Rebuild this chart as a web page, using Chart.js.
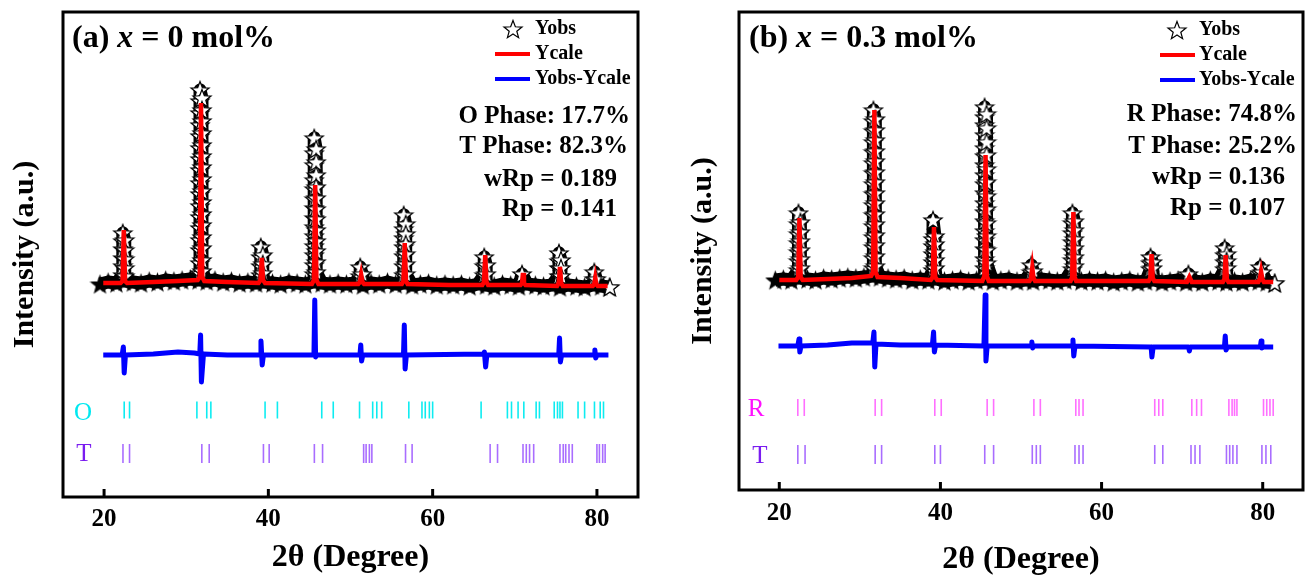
<!DOCTYPE html>
<html>
<head>
<meta charset="utf-8">
<script src="https://cdn.jsdelivr.net/npm/chart.js@4.4.0/dist/chart.umd.min.js"></script>
<style>
  body { margin: 0; background: #fff; }
  #wrap { position: relative; width: 1309px; height: 580px; }
  canvas { position: absolute; top: 0; }
</style>
</head>
<body>
<div id="wrap">
  <canvas id="chartA" width="654" height="580" style="left:0"></canvas>
  <canvas id="chartB" width="655" height="580" style="left:654px"></canvas>
</div>
<script>
// ---- data (2θ in degrees, intensities in a.u. as plotted, stacked offsets included) ----
const xTicks = [20, 40, 60, 80];

// background sampling of Yobs
const twoTheta = [19.5, 20.5, 21.5, 22.5, 23.5, 24.5, 25.5, 26.5, 27.5, 28.5,
  29.5, 30.5, 31.5, 32.5, 33.5, 34.5, 35.5, 36.5, 37.5, 38.5,
  39.5, 40.5, 41.5, 42.5, 43.5, 44.5, 45.5, 46.5, 47.5, 48.5,
  49.5, 50.5, 51.5, 52.5, 53.5, 54.5, 55.5, 56.5, 57.5, 58.5,
  59.5, 60.5, 61.5, 62.5, 63.5, 64.5, 65.5, 66.5, 67.5, 68.5,
  69.5, 70.5, 71.5, 72.5, 73.5, 74.5, 75.5, 76.5, 77.5, 78.5,
  79.5, 80.5, 81.5];

// (a) x = 0 mol%
const obsBaseA = [213, 215, 214, 216, 215, 214, 216, 215, 217, 216,
  217, 218, 217, 216, 217, 215, 216, 214, 215, 214,
  215, 214, 213, 215, 214, 213, 215, 214, 213, 214,
  213, 214, 212, 214, 213, 215, 213, 214, 212, 213,
  214, 212, 213, 212, 213, 211, 213, 212, 211, 213,
  212, 211, 213, 212, 211, 212, 210, 212, 211, 210,
  212, 211, 210];
const obsPeaksA = [
  { at: 22.4, up: [222, 231, 239, 248, 256, 264], down: [257, 247, 238, 229, 221] },
  { at: 31.8, up: [224, 234, 247, 257, 269, 280, 291, 303, 314, 327, 338, 349, 361, 372, 384, 396, 407],
    down: [399, 387, 376, 364, 352, 341, 330, 318, 306, 295, 283, 272, 260, 249, 237, 226] },
  { at: 39.2, up: [222, 231, 240, 250], down: [242, 233, 224] },
  { at: 45.7, up: [223, 232, 242, 251, 261, 270, 279, 289, 298, 308, 317, 332, 344, 359],
    down: [348, 335, 322, 310, 299, 288, 278, 267, 256, 246, 235, 225] },
  { at: 51.3, up: [221, 230], down: [223] },
  { at: 56.6, up: [222, 231, 241, 250, 259, 268, 282], down: [273, 263, 253, 243, 233, 223] },
  { at: 66.4, up: [222, 231, 240], down: [232, 223] },
  { at: 71.0, up: [223], down: [] },
  { at: 75.5, up: [221, 229, 236, 244], down: [237, 229, 221] },
  { at: 79.8, up: [218, 225], down: [218] },
  { at: 81.7, up: [210], down: [] }
];
const calcA = [[19.9, 214], [22.0, 214], [22.25, 216], [22.4, 267], [22.55, 216], [22.8, 214],
  [26, 215], [29, 216], [31.4, 217], [31.65, 220], [31.8, 394], [31.95, 220], [32.2, 216],
  [35, 215], [38.8, 214], [39.05, 217], [39.2, 239], [39.35, 217], [39.6, 214],
  [45.3, 213], [45.55, 217], [45.7, 312], [45.85, 217], [46.1, 213],
  [50.95, 213], [51.15, 215], [51.3, 222], [51.45, 215], [51.65, 213],
  [56.25, 213], [56.45, 216], [56.6, 254], [56.75, 216], [56.95, 213],
  [62, 212], [66.05, 212], [66.25, 215], [66.4, 242], [66.55, 215], [66.75, 212],
  [70.7, 212], [70.88, 214], [71.0, 224], [71.12, 214], [71.3, 212],
  [75.15, 211], [75.35, 214], [75.5, 230], [75.65, 214], [75.85, 211],
  [79.5, 211], [79.68, 213], [79.8, 219], [79.92, 213], [80.1, 211], [81.3, 211]];
const diffA = [[19.9, 142], [22.2, 142], [22.35, 150], [22.45, 124], [22.6, 142],
  [26, 143], [29, 145], [31, 144], [31.65, 143], [31.75, 162], [31.85, 115], [32.1, 143],
  [35, 142], [39.0, 142], [39.1, 156], [39.25, 132], [39.4, 142],
  [45.55, 142], [45.65, 197], [45.75, 140], [45.9, 142],
  [51.15, 142], [51.25, 152], [51.35, 136], [51.5, 142],
  [56.45, 142], [56.55, 172], [56.65, 128], [56.8, 142],
  [66.2, 143], [66.3, 145], [66.45, 130], [66.6, 142],
  [75.35, 142], [75.45, 159], [75.55, 135], [75.7, 142],
  [79.65, 142], [79.75, 147], [79.85, 139], [80.0, 142], [81.4, 142]];
const reflOA = [22.45, 23.1, 31.3, 32.5, 33.0, 39.6, 41.1, 46.5, 47.9, 51.1, 52.7, 53.2, 53.8,
  57.1, 58.7, 59.1, 59.6, 60.0, 65.9, 69.1, 69.6, 70.4, 71.1, 72.6, 73.0,
  74.8, 75.2, 75.5, 75.8, 77.7, 78.5, 79.7, 80.4, 80.8];
const reflTA = [22.3, 23.1, 31.9, 32.8, 39.4, 40.1, 45.6, 46.6, 51.6, 51.9, 52.3, 52.6,
  56.7, 57.5, 67.0, 67.9, 71.0, 71.4, 71.8, 72.3, 75.5, 75.9, 76.2, 76.6, 77.0,
  80.0, 80.3, 80.7, 81.0];
const rowLevelA = [87, 43.5];
const statsA = ['O Phase: 17.7%', 'T Phase: 82.3%', 'wRp = 0.189', 'Rp = 0.141'];

// (b) x = 0.3 mol%
const obsBaseB = [210, 211, 210, 212, 211, 210, 212, 211, 212, 213,
  212, 213, 214, 213, 212, 211, 212, 210, 211, 210,
  211, 209, 210, 211, 209, 210, 211, 209, 210, 211,
  209, 210, 209, 211, 210, 209, 210, 211, 209, 210,
  209, 210, 208, 209, 210, 208, 209, 210, 208, 209,
  210, 208, 209, 208, 210, 209, 208, 209, 208, 210,
  209, 208, 207];
const obsPeaksB = [
  { at: 22.5, up: [220, 229, 238, 247, 256, 266, 277], down: [268, 258, 249, 240, 231, 222] },
  { at: 31.8, up: [222, 232, 243, 253, 264, 275, 285, 296, 306, 317, 327, 338, 348, 359, 369, 380],
    down: [371, 360, 350, 339, 329, 318, 308, 297, 287, 276, 266, 255, 245, 234, 224] },
  { at: 39.2, up: [220, 228, 236, 244, 251, 270], down: [254, 246, 238, 230, 222] },
  { at: 45.6, up: [222, 231, 241, 250, 259, 269, 278, 287, 297, 306, 315, 325, 334, 342, 355, 365, 373, 383],
    down: [376, 362, 348, 335, 321, 308, 294, 281, 267, 254, 240, 227] },
  { at: 51.4, up: [218, 225], down: [219] },
  { at: 56.5, up: [221, 230, 239, 248, 257, 267, 277], down: [269, 260, 251, 242, 233, 224] },
  { at: 66.2, up: [221, 227, 233], down: [228, 222] },
  { at: 70.9, up: [216], down: [] },
  { at: 75.4, up: [221, 228, 235, 242], down: [236, 229, 222] },
  { at: 79.8, up: [217, 223], down: [218] },
  { at: 81.6, up: [207], down: [] }
];
const calcB = [[20.0, 210], [22.1, 210], [22.35, 213], [22.5, 272], [22.65, 213], [22.9, 210],
  [26, 211], [29, 212], [31.4, 214], [31.65, 218], [31.8, 380], [31.95, 218], [32.2, 213],
  [35, 212], [38.8, 210], [39.05, 213], [39.2, 263], [39.35, 213], [39.6, 210],
  [45.2, 209], [45.45, 214], [45.6, 335], [45.75, 214], [46.0, 209],
  [51.05, 209], [51.25, 212], [51.4, 222], [51.55, 212], [51.75, 209],
  [56.15, 209], [56.35, 213], [56.5, 278], [56.65, 213], [56.85, 209],
  [62, 209], [65.85, 209], [66.05, 212], [66.2, 236], [66.35, 212], [66.55, 209],
  [70.6, 208], [70.78, 211], [70.9, 213], [71.02, 211], [71.2, 208],
  [75.05, 208], [75.25, 211], [75.4, 235], [75.55, 211], [75.75, 208],
  [79.45, 208], [79.65, 211], [79.8, 218], [79.95, 211], [80.15, 208], [81.3, 208]];
const diffB = [[19.9, 144], [22.3, 144], [22.45, 151], [22.55, 138], [22.7, 144],
  [26, 145], [29, 147], [31.6, 147], [31.75, 158], [31.85, 123], [32.0, 146],
  [35, 145], [39.0, 145], [39.15, 158], [39.25, 138], [39.4, 145],
  [45.4, 144], [45.55, 195], [45.65, 129], [45.8, 144],
  [51.25, 144], [51.35, 148], [51.45, 142], [51.6, 144],
  [56.35, 144], [56.45, 150], [56.55, 134], [56.7, 144],
  [66.05, 143], [66.15, 143], [66.25, 133], [66.4, 143],
  [70.8, 143], [70.9, 139], [71.0, 143],
  [75.25, 143], [75.35, 154], [75.45, 140], [75.6, 143],
  [79.7, 143], [79.8, 149], [79.9, 142], [80.0, 143], [81.3, 143]];
const reflRB = [22.3, 23.1, 31.9, 32.7, 39.3, 40.1, 45.8, 46.6, 51.6, 52.4, 56.8, 57.2, 57.7,
  66.6, 67.1, 67.6, 71.2, 71.8, 72.4, 75.8, 76.2, 76.5, 76.8, 80.1, 80.5, 80.9, 81.3];
const reflTB = [22.3, 23.2, 31.9, 32.7, 39.3, 40.0, 45.5, 46.6, 51.4, 51.9, 52.4, 56.7, 57.2, 57.7,
  66.6, 67.6, 71.1, 71.6, 72.2, 75.5, 75.9, 76.3, 76.8, 79.9, 80.4, 81.0];
const rowLevelB = [82.5, 35.5];
const statsB = ['R Phase: 74.8%', 'T Phase: 25.2%', 'wRp = 0.136', 'Rp = 0.107'];

// ---- drawing ----
const SERIF = '"Liberation Serif", "Times New Roman", serif';

function starIcon(fill, r) {
  const c = document.createElement('canvas');
  c.width = c.height = Math.ceil(2 * r + 3);
  const g = c.getContext('2d');
  g.beginPath();
  for (let i = 0; i < 10; i++) {
    const a = -Math.PI / 2 + i * Math.PI / 5;
    const rr = i % 2 ? r * 0.42 : r;
    g.lineTo(c.width / 2 + rr * Math.cos(a), c.height / 2 + 1 + rr * Math.sin(a));
  }
  g.closePath();
  g.fillStyle = fill;
  g.fill();
  g.lineWidth = 1.2;
  g.strokeStyle = '#000';
  g.stroke();
  return c;
}
const starWhite = starIcon('#fff', 9.5);
const starBlack = starIcon('#000', 9);

// merge background points and peak columns in 2θ order
function buildObs(base, peaks) {
  const pts = [], styles = [];
  let k = 0;
  const pushPeak = p => {
    p.up.forEach(y => { pts.push({ x: p.at - 0.12, y }); styles.push(starWhite); });
    p.down.forEach(y => { pts.push({ x: p.at + 0.12, y }); styles.push(starWhite); });
  };
  twoTheta.forEach((x, i) => {
    while (k < peaks.length && peaks[k].at <= x) pushPeak(peaks[k++]);
    pts.push({ x, y: base[i] });
    styles.push(starBlack);
  });
  while (k < peaks.length) pushPeak(peaks[k++]);
  return { pts, styles };
}

const panelDeco = {
  id: 'panelDeco',
  afterDraw(chart, args, o) {
    const { ctx, chartArea: a, scales: { x } } = chart;
    ctx.save();
    ctx.strokeStyle = '#000';
    ctx.lineWidth = 3;
    xTicks.forEach(v => {
      const px = x.getPixelForValue(v);
      ctx.beginPath();
      ctx.moveTo(px, a.bottom);
      ctx.lineTo(px, a.bottom - 8);
      ctx.stroke();
    });
    ctx.strokeRect(a.left, a.top, a.right - a.left, a.bottom - a.top);

    // panel title "(a) x = 0 mol%"
    ctx.fillStyle = '#000';
    ctx.textBaseline = 'alphabetic';
    ctx.textAlign = 'left';
    let tx = o.title.x;
    [[o.title.tag, 'bold'], ['x', 'italic bold'], [o.title.rest, 'bold']].forEach(([s, w]) => {
      ctx.font = w + ' 32px ' + SERIF;
      ctx.fillText(s, tx, o.title.y);
      tx += ctx.measureText(s).width;
    });

    // legend
    const L = o.legend;
    ctx.drawImage(starWhite, L.starX - starWhite.width / 2, L.ys[0] - starWhite.height / 2);
    ctx.lineWidth = 4;
    [['#ff0000', L.ys[1]], ['#0000ff', L.ys[2]]].forEach(([c, y]) => {
      ctx.strokeStyle = c;
      ctx.beginPath();
      ctx.moveTo(L.lineX0, y);
      ctx.lineTo(L.lineX1, y);
      ctx.stroke();
    });
    ctx.font = 'bold 20px ' + SERIF;
    ctx.textBaseline = 'middle';
    ['Yobs', 'Ycale', 'Yobs-Ycale'].forEach((s, i) => ctx.fillText(s, L.textX, L.ys[i]));

    // refinement results
    ctx.font = 'bold 25px ' + SERIF;
    ctx.textAlign = 'right';
    o.stats.forEach((s, i) => ctx.fillText(s, o.statsPos[i][0], o.statsPos[i][1]));

    // phase row labels
    ctx.font = '25px ' + SERIF;
    ctx.textAlign = 'center';
    o.rows.forEach(r => {
      ctx.fillStyle = r.color;
      ctx.fillText(r.text, r.x, r.y);
    });
    ctx.restore();
  }
};

function makePanel(id, d, lay) {
  const obs = buildObs(d.base, d.peaks);
  const font = (size, w) => ({ family: SERIF, size, weight: w || 'bold' });
  return new Chart(document.getElementById(id), {
    type: 'scatter',
    data: {
      datasets: [
        { label: 'Ycale', data: d.calc, showLine: true, borderColor: '#ff0000', borderWidth: 4.5,
          pointRadius: 0, tension: 0, order: 0 },
        { label: 'Yobs', data: obs.pts, showLine: true, borderColor: '#000', borderWidth: 13,
          borderJoinStyle: 'round', pointStyle: obs.styles, pointRadius: 8, pointBorderWidth: 1,
          tension: 0, order: 1 },
        { label: 'Yobs-Ycale', data: d.diff, showLine: true, borderColor: '#0000ff', borderWidth: 5,
          borderJoinStyle: 'round', pointRadius: 0, tension: 0, order: 2 },
        { label: d.rowNames[0], data: d.refl1.map(x => ({ x, y: d.rowLevel[0] })),
          pointStyle: 'line', rotation: 90, pointRadius: 8.5, borderWidth: 1.6,
          borderColor: d.rowColors[0], order: 3 },
        { label: d.rowNames[1], data: d.refl2.map(x => ({ x, y: d.rowLevel[1] })),
          pointStyle: 'line', rotation: 90, pointRadius: 9.5, borderWidth: 1.6,
          borderColor: d.rowColors[1], order: 3 }
      ]
    },
    options: {
      responsive: false,
      animation: false,
      devicePixelRatio: 1,
      layout: { autoPadding: false, padding: { top: 12, right: lay.padRight, left: 0, bottom: 0 } },
      scales: {
        x: {
          type: 'linear', min: 15, max: 85,
          afterBuildTicks: s => { s.ticks = xTicks.map(v => ({ value: v })); },
          afterFit: s => { s.height = lay.xHeight; },
          grid: { display: false, drawTicks: false },
          border: { display: false },
          ticks: { color: '#000', font: font(25), padding: lay.tickPad },
          title: { display: true, text: '2θ (Degree)', color: '#000', font: font(32),
                   padding: { top: 0, bottom: lay.xTitlePad } }
        },
        y: {
          min: 0, max: lay.yMax,
          afterFit: s => { s.width = lay.yWidth; },
          grid: { display: false, drawTicks: false },
          border: { display: false },
          ticks: { display: false },
          title: { display: true, text: 'Intensity (a.u.)', color: '#000', font: font(30),
                   padding: { top: lay.yTitlePad, bottom: 0 } }
        }
      },
      plugins: {
        legend: { display: false },
        tooltip: { enabled: false },
        panelDeco: lay.deco
      }
    },
    plugins: [panelDeco]
  });
}

makePanel('chartA', {
  base: obsBaseA, peaks: obsPeaksA, calc: calcA, diff: diffA,
  refl1: reflOA, refl2: reflTA, rowLevel: rowLevelA, rowNames: ['O', 'T'],
  rowColors: ['rgba(0,235,240,0.95)', 'rgba(140,60,255,0.75)']
}, {
  padRight: 16, xHeight: 83, yWidth: 63, yMax: 485, tickPad: 8, xTitlePad: 3, yTitlePad: 7,
  deco: {
    title: { x: 72, y: 47, tag: '(a) ', rest: ' = 0 mol%' },
    legend: { starX: 513, textX: 535, lineX0: 495, lineX1: 530, ys: [29, 54, 79] },
    stats: statsA,
    statsPos: [[630, 117], [628, 147], [617, 180], [617, 210]],
    rows: [{ text: 'O', x: 83, y: 413, color: '#00e8f0' }, { text: 'T', x: 84, y: 454, color: '#7a1cf0' }]
  }
});

makePanel('chartB', {
  base: obsBaseB, peaks: obsPeaksB, calc: calcB, diff: diffB,
  refl1: reflRB, refl2: reflTB, rowLevel: rowLevelB, rowNames: ['R', 'T'],
  rowColors: ['rgba(255,50,255,0.7)', 'rgba(140,60,255,0.75)']
}, {
  padRight: 6, xHeight: 90, yWidth: 85, yMax: 478, tickPad: 9, xTitlePad: 1, yTitlePad: 31,
  deco: {
    title: { x: 95, y: 47, tag: '(b) ', rest: ' = 0.3 mol%' },
    legend: { starX: 523, textX: 545, lineX0: 506, lineX1: 541, ys: [30, 55, 80] },
    stats: statsB,
    statsPos: [[643, 115], [643, 147], [631, 178], [631, 209]],
    rows: [{ text: 'R', x: 102, y: 409, color: '#ff10ff' }, { text: 'T', x: 106, y: 456, color: '#7a1cf0' }]
  }
});
</script>
</body>
</html>
